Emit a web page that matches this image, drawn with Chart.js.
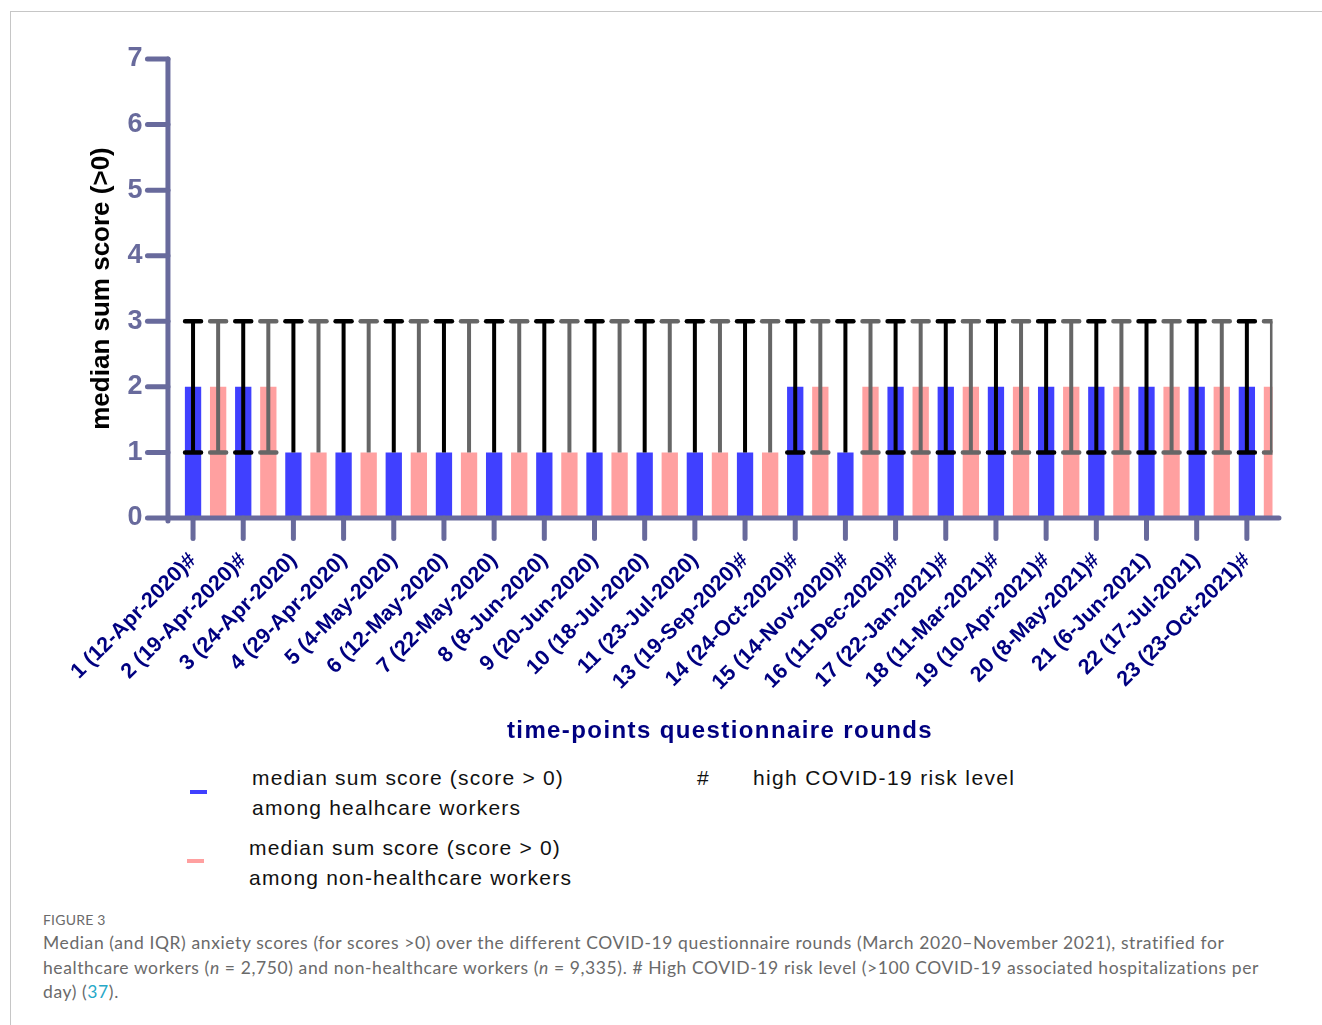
<!DOCTYPE html>
<html>
<head>
<meta charset="utf-8">
<title>Figure 3</title>
<script src="https://cdn.jsdelivr.net/npm/chart.js@4.4.1/dist/chart.umd.min.js"></script>
<style>
  body { margin: 0; background: #fff; font-family: 'Liberation Sans', Arial, sans-serif; }
  #page { position: relative; width: 1322px; height: 1025px; overflow: hidden; }
  #frame { position: absolute; left: 10px; top: 11px; width: 1330px; height: 1030px; border-top: 1px solid #c6c6c6; border-left: 1px solid #c6c6c6; }
  #chartBox { position: absolute; left: 0; top: 0; width: 1322px; height: 720px; }
  .xtitle { position: absolute; left: 720px; top: 716px; transform: translateX(-50%); white-space: nowrap;
            font-size: 24px; line-height: 28px; font-weight: bold; letter-spacing: 1.4px; color: #000080; }
  .legend-text { position: absolute; font-size: 21px; line-height: 30px; letter-spacing: 1.2px; color: #111; white-space: nowrap; }
  .swatch { position: absolute; width: 17px; height: 4px; }
  .caption { position: absolute; left: 43px; font-family: Lato, 'Noto Sans', sans-serif; color: #6a6a6a; white-space: nowrap; }
  .caption a { color: #27a8c8; text-decoration: none; }
</style>
</head>
<body>
<div id="page">
  <div id="frame"></div>
  <div id="chartBox"><canvas id="anxietyChart"></canvas></div>

  <div class="xtitle">time-points questionnaire rounds</div>

  <div class="swatch" style="left:190px; top:790px; background:#4040ff;"></div>
  <div class="legend-text" style="left:252px; top:763px;">median sum score (score &gt; 0)<br>among healhcare workers</div>
  <div class="swatch" style="left:187px; top:859px; background:#ffa0a0;"></div>
  <div class="legend-text" style="left:249px; top:833px;">median sum score (score &gt; 0)<br>among non-healthcare workers</div>
  <div class="legend-text" style="left:697px; top:763px;">#</div>
  <div class="legend-text" style="left:753px; top:763px; letter-spacing:1.35px;">high COVID-19 risk level</div>

  <div class="caption" style="top:911px; font-size:14px; line-height:18px; letter-spacing:0.2px;">FIGURE 3</div>
  <div class="caption" style="top:931px; font-size:17.5px; line-height:24.5px; letter-spacing:0.6px;">
    Median (and IQR) anxiety scores (for scores &gt;0) over the different COVID-19 questionnaire rounds (March 2020–November 2021), stratified for<br>
    healthcare workers (<i>n</i> = 2,750) and non-healthcare workers (<i>n</i> = 9,335). # High COVID-19 risk level (&gt;100 COVID-19 associated hospitalizations per<br>
    day) (<a>37</a>).
  </div>
</div>

<script>
// Questionnaire rounds (round 12 is not in the figure)
const roundLabels = [
  '1 (12-Apr-2020)#', '2 (19-Apr-2020)#', '3 (24-Apr-2020)', '4 (29-Apr-2020)',
  '5 (4-May-2020)', '6 (12-May-2020)', '7 (22-May-2020)', '8 (8-Jun-2020)',
  '9 (20-Jun-2020)', '10 (18-Jul-2020)', '11 (23-Jul-2020)', '13 (19-Sep-2020)#',
  '14 (24-Oct-2020)#', '15 (14-Nov-2020)#', '16 (11-Dec-2020)#', '17 (22-Jan-2021)#',
  '18 (11-Mar-2021)#', '19 (10-Apr-2021)#', '20 (8-May-2021)#', '21 (6-Jun-2021)',
  '22 (17-Jul-2021)', '23 (23-Oct-2021)#'
];

// Healthcare workers: median and IQR
const hcwMedian = [2, 2, 1, 1, 1, 1, 1, 1, 1, 1, 1, 1, 2, 1, 2, 2, 2, 2, 2, 2, 2, 2];
const hcwQ1     = [1, 1, 1, 1, 1, 1, 1, 1, 1, 1, 1, 1, 1, 1, 1, 1, 1, 1, 1, 1, 1, 1];
const hcwQ3     = [3, 3, 3, 3, 3, 3, 3, 3, 3, 3, 3, 3, 3, 3, 3, 3, 3, 3, 3, 3, 3, 3];

// Non-healthcare workers: median and IQR
const nonHcwMedian = [2, 2, 1, 1, 1, 1, 1, 1, 1, 1, 1, 1, 2, 2, 2, 2, 2, 2, 2, 2, 2, 2];
const nonHcwQ1     = [1, 1, 1, 1, 1, 1, 1, 1, 1, 1, 1, 1, 1, 1, 1, 1, 1, 1, 1, 1, 1, 1];
const nonHcwQ3     = [3, 3, 3, 3, 3, 3, 3, 3, 3, 3, 3, 3, 3, 3, 3, 3, 3, 3, 3, 3, 3, 3];

const yTickValues = [0, 1, 2, 3, 4, 5, 6, 7];

const AXIS_COLOR = '#686a9c';
const CLIP_INSET = 12; // plot is cut off just past the last pink bar

Chart.defaults.font.family = "'Liberation Sans', Arial, sans-serif";

// IQR whiskers drawn on top of the bars
const iqrPlugin = {
  id: 'iqrBars',
  afterDatasetsDraw(chart) {
    const { ctx, chartArea } = chart;
    const yScale = chart.scales.y;
    const groups = [
      { meta: chart.getDatasetMeta(0), med: hcwMedian, q1: hcwQ1, q3: hcwQ3, color: '#000000' },
      { meta: chart.getDatasetMeta(1), med: nonHcwMedian, q1: nonHcwQ1, q3: nonHcwQ3, color: '#666666' }
    ];
    ctx.save();
    ctx.beginPath();
    ctx.rect(0, 0, chartArea.right - CLIP_INSET, chart.height);
    ctx.clip();
    groups.forEach((g) => {
      ctx.strokeStyle = g.color;
      g.meta.data.forEach((bar, i) => {
        const x = bar.x;
        const yHigh = yScale.getPixelForValue(g.q3[i]);
        const yMed = yScale.getPixelForValue(g.med[i]);
        const yLow = yScale.getPixelForValue(g.q1[i]);
        const hasLow = g.q1[i] < g.med[i];

        ctx.lineWidth = 4;
        ctx.lineCap = 'butt';
        ctx.beginPath();
        ctx.moveTo(x, hasLow ? yLow : yMed);
        ctx.lineTo(x, yHigh);
        ctx.stroke();

        ctx.lineWidth = 4.5;
        ctx.lineCap = 'round';
        ctx.beginPath();
        ctx.moveTo(x - 8, yHigh);
        ctx.lineTo(x + 8, yHigh);
        if (hasLow) {
          ctx.moveTo(x - 8, yLow);
          ctx.lineTo(x + 8, yLow);
        }
        ctx.stroke();
      });
    });
    ctx.restore();
  }
};

// Prism-style axes: thick lines with outside ticks
const axesPlugin = {
  id: 'prismAxes',
  afterDraw(chart) {
    const { ctx } = chart;
    const yScale = chart.scales.y;
    const blue = chart.getDatasetMeta(0).data;
    const pink = chart.getDatasetMeta(1).data;
    const slot = pink[0].x - blue[0].x;
    const axisX = blue[0].x - slot;
    const y0 = yScale.getPixelForValue(0);

    const line = (x1, y1, x2, y2) => {
      ctx.beginPath();
      ctx.moveTo(x1, y1);
      ctx.lineTo(x2, y2);
      ctx.stroke();
    };

    ctx.save();
    ctx.strokeStyle = AXIS_COLOR;
    ctx.lineWidth = 5;
    ctx.lineCap = 'round';

    line(axisX, yScale.getPixelForValue(yTickValues[yTickValues.length - 1]), axisX, y0 + 3);
    yTickValues.forEach((v) => {
      const py = yScale.getPixelForValue(v);
      line(axisX - 20.5, py, axisX, py);
    });

    line(axisX, y0, pink[pink.length - 1].x + 7, y0);
    blue.forEach((b) => line(b.x, y0, b.x, y0 + 20.5));
    ctx.restore();
  }
};

const barClip = { left: false, top: false, right: -CLIP_INSET, bottom: false };

new Chart(document.getElementById('anxietyChart'), {
  type: 'bar',
  data: {
    labels: roundLabels,
    datasets: [
      {
        label: 'median sum score (score > 0) among healhcare workers',
        data: hcwMedian,
        backgroundColor: '#4040ff',
        categoryPercentage: 1,
        barPercentage: 0.65,
        clip: barClip
      },
      {
        label: 'median sum score (score > 0) among non-healthcare workers',
        data: nonHcwMedian,
        backgroundColor: '#ffa0a0',
        categoryPercentage: 1,
        barPercentage: 0.65,
        clip: barClip
      }
    ]
  },
  options: {
    responsive: true,
    maintainAspectRatio: false,
    animation: false,
    layout: { padding: { top: 59, left: 0, right: 37.5, bottom: 0 } },
    plugins: {
      legend: { display: false },
      tooltip: { enabled: false }
    },
    scales: {
      x: {
        afterFit(scale) { scale.height = 202; },
        grid: { display: false, drawTicks: false },
        border: { display: false },
        ticks: {
          autoSkip: false,
          minRotation: 45,
          maxRotation: 45,
          labelOffset: -12.5,
          padding: 30,
          color: '#000080',
          font: { size: 21.5, weight: 'bold' }
        }
      },
      y: {
        min: 0,
        max: 7,
        afterFit(scale) { scale.width = 180.5; },
        grid: { display: false, drawTicks: false },
        border: { display: false },
        ticks: {
          stepSize: 1,
          padding: 38,
          color: AXIS_COLOR,
          font: { size: 27, weight: 'bold' }
        },
        title: {
          display: true,
          text: 'median sum score (>0)',
          color: '#000000',
          font: { size: 26, weight: 'bold' },
          padding: { top: 86, bottom: 0 }
        }
      }
    }
  },
  plugins: [iqrPlugin, axesPlugin]
});
</script>
</body>
</html>
